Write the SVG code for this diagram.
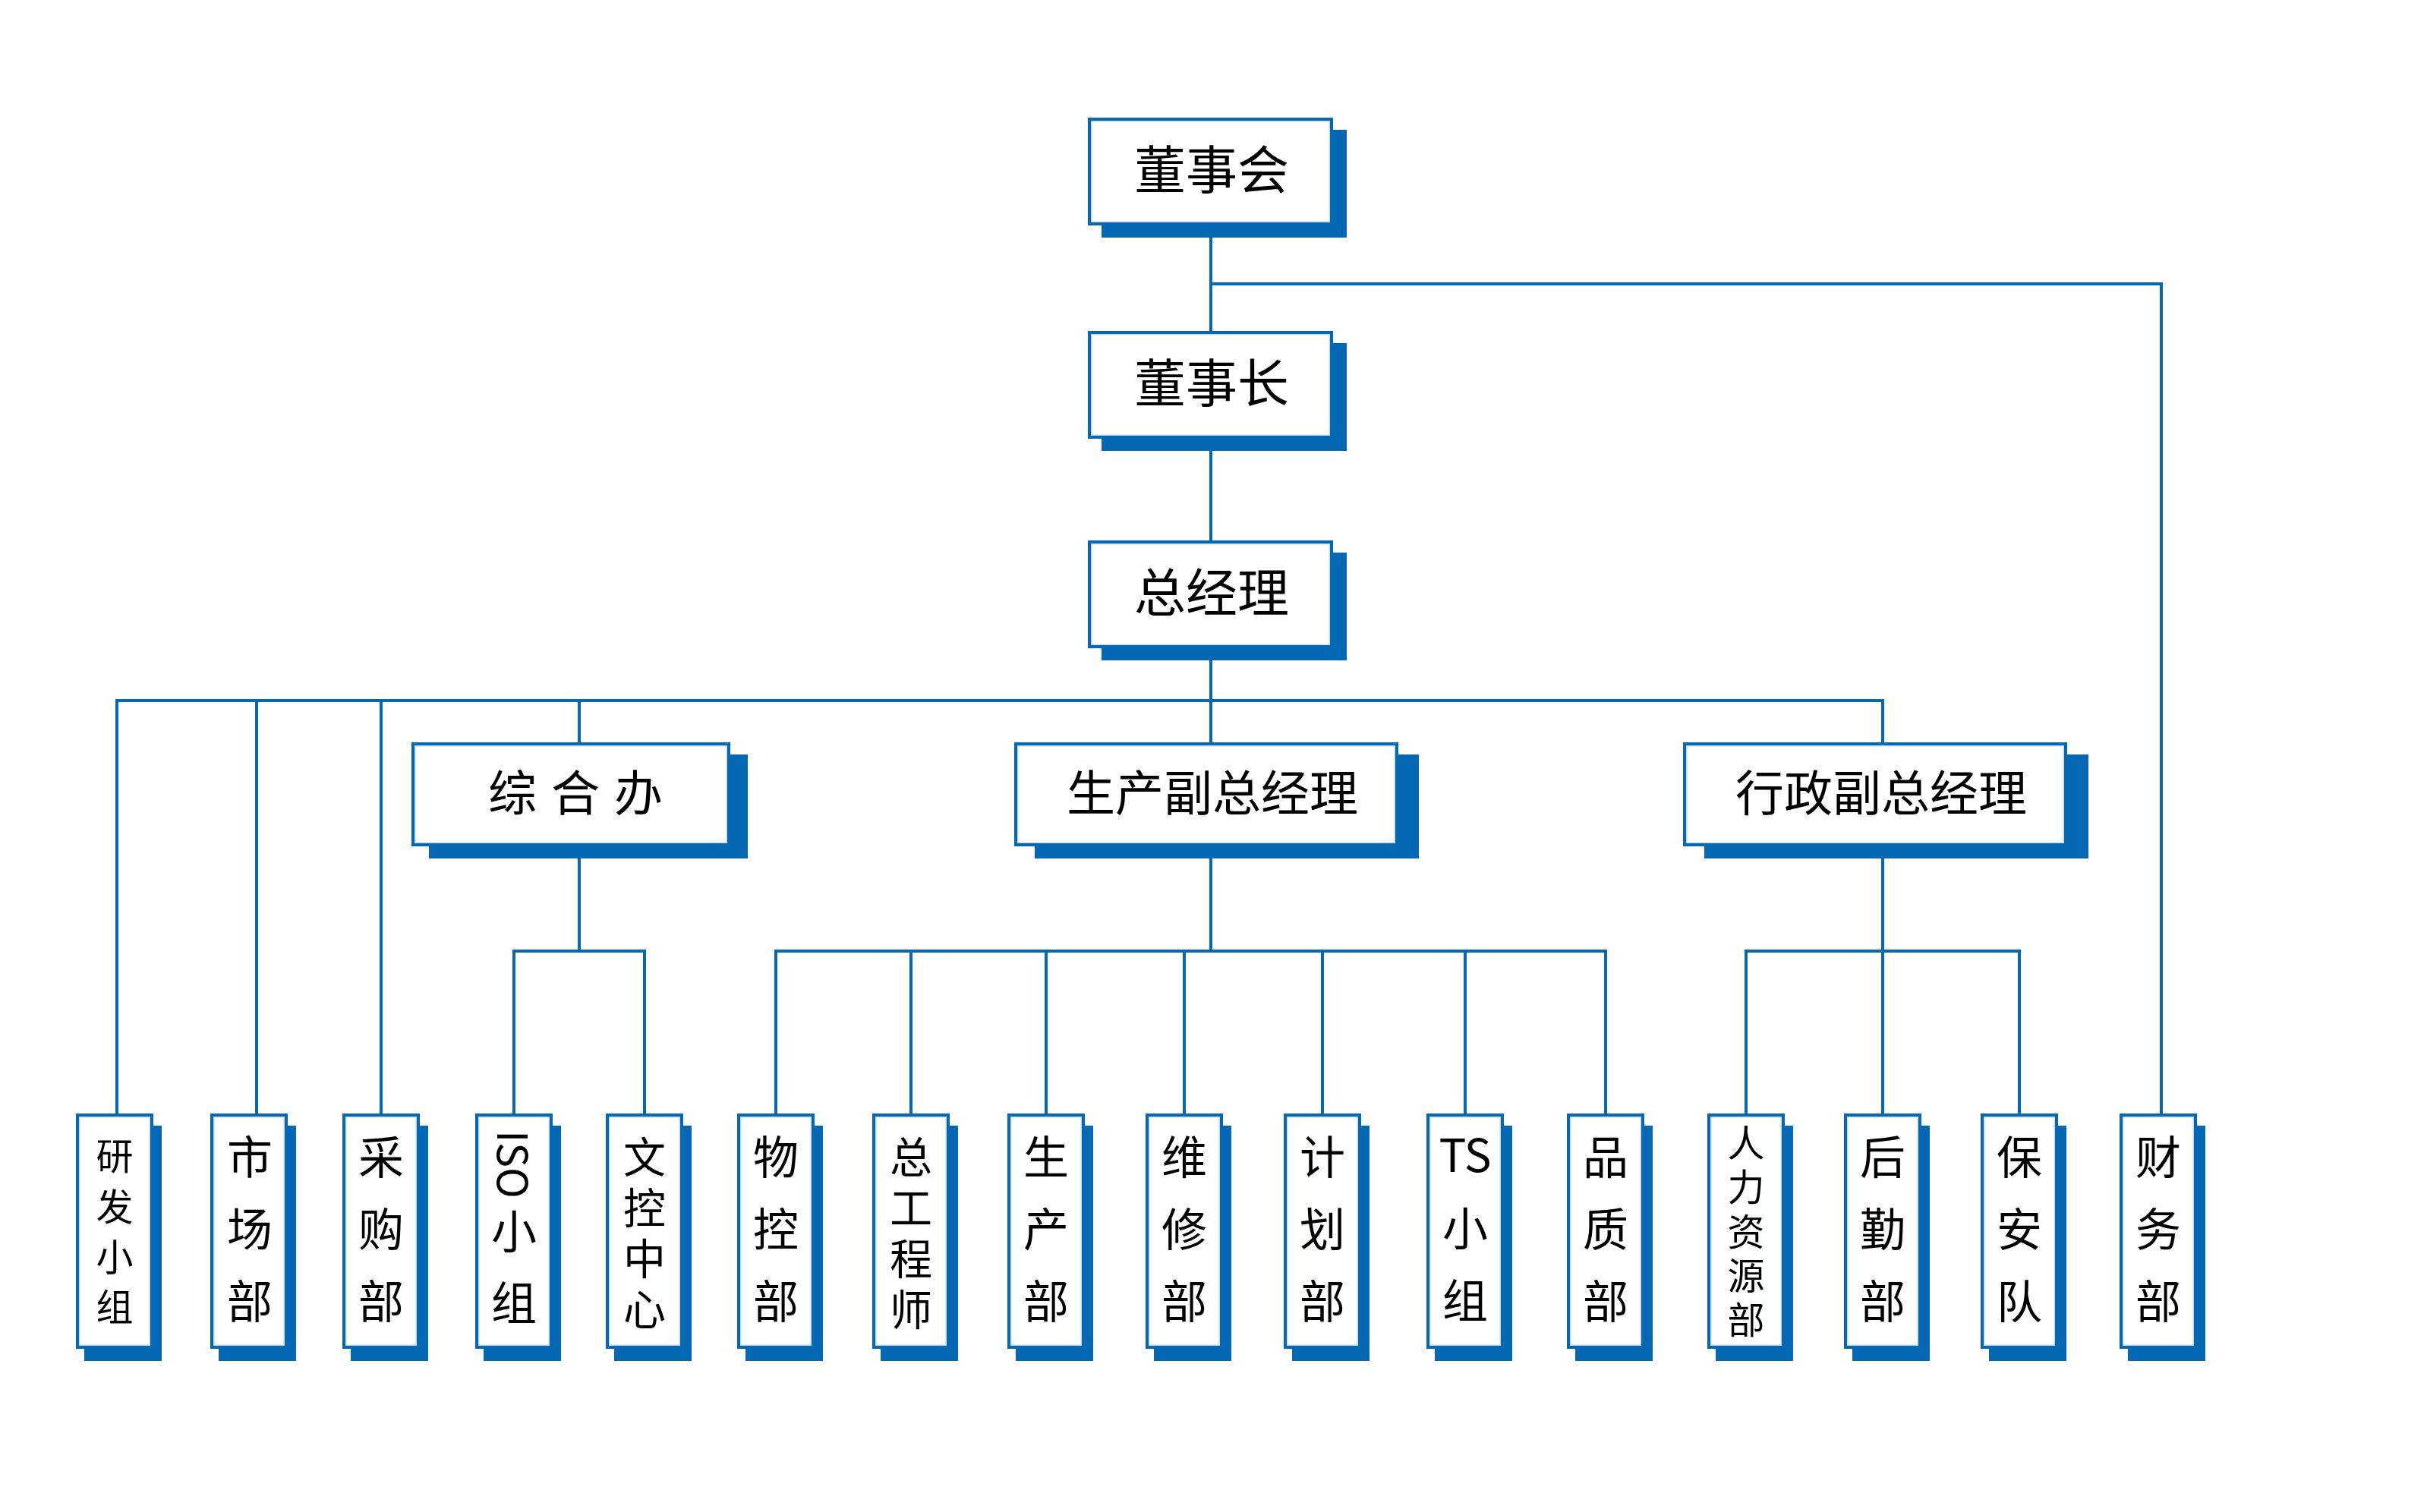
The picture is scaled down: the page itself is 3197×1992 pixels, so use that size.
<svg xmlns="http://www.w3.org/2000/svg" width="3197" height="1992" viewBox="0 0 3197 1992">
<style>
.ln{fill:none;stroke:#0568b5;stroke-width:4}
.sh{fill:#0568b5}
.bx{fill:#fff;stroke:#0568b5;stroke-width:4}
.in{fill:none;stroke:#c6daee;stroke-width:1.5}
.t{font-family:"Noto Sans CJK SC","Noto Sans",sans-serif;fill:#000;text-anchor:middle;dominant-baseline:central}
.f68{font-size:68px}
.f64{font-size:64px}
.f60{font-size:60px}
.f56{font-size:56px}
.f49{font-size:49px}
</style>
<rect width="3197" height="1992" fill="#fff"/>
<g id="connectors">
<path class="ln" d="M1595,297 V1253"/>
<path class="ln" d="M1595,374 H2847 V1469"/>
<path class="ln" d="M154,1469 V923 H2480 V1469"/>
<path class="ln" d="M338,923 V1469"/>
<path class="ln" d="M502,923 V1469"/>
<path class="ln" d="M763,923 V1253"/>
<path class="ln" d="M677,1469 V1253 H849 V1469"/>
<path class="ln" d="M1022,1469 V1253 H2115 V1469"/>
<path class="ln" d="M1200,1253 V1469"/>
<path class="ln" d="M1378,1253 V1469"/>
<path class="ln" d="M1560,1253 V1469"/>
<path class="ln" d="M1742,1253 V1469"/>
<path class="ln" d="M1930,1253 V1469"/>
<path class="ln" d="M2300,1469 V1253 H2660 V1469"/>
</g>
<g id="n-dongshihui">
<rect class="sh" x="1451" y="171" width="323" height="142"/>
<rect class="bx" x="1435" y="157" width="319" height="138"/>
<rect class="in" x="1437.75" y="159.75" width="313.5" height="132.5"/>
<text class="t f68" x="1596" y="219">董事会</text>
</g>
<g id="n-dongshizhang">
<rect class="sh" x="1451" y="452" width="323" height="142"/>
<rect class="bx" x="1435" y="438" width="319" height="138"/>
<rect class="in" x="1437.75" y="440.75" width="313.5" height="132.5"/>
<text class="t f68" x="1596" y="500">董事长</text>
</g>
<g id="n-zongjingli">
<rect class="sh" x="1451" y="728" width="323" height="142"/>
<rect class="bx" x="1435" y="714" width="319" height="138"/>
<rect class="in" x="1437.75" y="716.75" width="313.5" height="132.5"/>
<text class="t f68" x="1596" y="776">总经理</text>
</g>
<g id="n-zonghe">
<rect class="sh" x="565" y="994" width="420" height="137"/>
<rect class="bx" x="544" y="980" width="416" height="133"/>
<rect class="in" x="546.75" y="982.75" width="410.5" height="127.5"/>
<text class="t f64" y="1040"><tspan x="675">综</tspan><tspan x="758">合</tspan><tspan x="841">办</tspan></text>
</g>
<g id="n-shengchanfu">
<rect class="sh" x="1363" y="994" width="506" height="137"/>
<rect class="bx" x="1338" y="980" width="502" height="133"/>
<rect class="in" x="1340.75" y="982.75" width="496.5" height="127.5"/>
<text class="t f64" x="1597" y="1040">生产副总经理</text>
</g>
<g id="n-xingzhengfu">
<rect class="sh" x="2245" y="994" width="506" height="137"/>
<rect class="bx" x="2219" y="980" width="502" height="133"/>
<rect class="in" x="2221.75" y="982.75" width="496.5" height="127.5"/>
<text class="t f64" x="2478" y="1040">行政副总经理</text>
</g>
<g id="n-yanfa">
<rect class="sh" x="111" y="1483" width="102" height="310"/>
<rect class="bx" x="102" y="1469" width="98" height="306"/>
<rect class="in" x="104.75" y="1471.75" width="92.5" height="300.5"/>
<text class="t f49" x="151" y="1519">研</text>
<text class="t f49" x="151" y="1586">发</text>
<text class="t f49" x="151" y="1652">小</text>
<text class="t f49" x="151" y="1718">组</text>
</g>
<g id="n-shichang">
<rect class="sh" x="288" y="1483" width="102" height="310"/>
<rect class="bx" x="279" y="1469" width="98" height="306"/>
<rect class="in" x="281.75" y="1471.75" width="92.5" height="300.5"/>
<text class="t f60" x="329" y="1520">市</text>
<text class="t f60" x="329" y="1615">场</text>
<text class="t f60" x="329" y="1710">部</text>
</g>
<g id="n-caigou">
<rect class="sh" x="462" y="1483" width="102" height="310"/>
<rect class="bx" x="453" y="1469" width="98" height="306"/>
<rect class="in" x="455.75" y="1471.75" width="92.5" height="300.5"/>
<text class="t f60" x="502" y="1520">采</text>
<text class="t f60" x="502" y="1615">购</text>
<text class="t f60" x="502" y="1710">部</text>
</g>
<g id="n-iso">
<rect class="sh" x="637" y="1483" width="102" height="310"/>
<rect class="bx" x="628" y="1469" width="98" height="306"/>
<rect class="in" x="630.75" y="1471.75" width="92.5" height="300.5"/>
<text class="t" style="font-size:55px" transform="translate(679,1534) rotate(90)" x="0" y="0">ISO</text>
<text class="t f60" x="677" y="1618">小</text>
<text class="t f60" x="677" y="1712">组</text>
</g>
<g id="n-wenkong">
<rect class="sh" x="809" y="1483" width="102" height="310"/>
<rect class="bx" x="800" y="1469" width="98" height="306"/>
<rect class="in" x="802.75" y="1471.75" width="92.5" height="300.5"/>
<text class="t f56" x="849" y="1520">文</text>
<text class="t f56" x="849" y="1587">控</text>
<text class="t f56" x="849" y="1654">中</text>
<text class="t f56" x="849" y="1721">心</text>
</g>
<g id="n-wukong">
<rect class="sh" x="982" y="1483" width="102" height="310"/>
<rect class="bx" x="973" y="1469" width="98" height="306"/>
<rect class="in" x="975.75" y="1471.75" width="92.5" height="300.5"/>
<text class="t f60" x="1022" y="1520">物</text>
<text class="t f60" x="1022" y="1615">控</text>
<text class="t f60" x="1022" y="1710">部</text>
</g>
<g id="n-zonggong">
<rect class="sh" x="1160" y="1483" width="102" height="310"/>
<rect class="bx" x="1151" y="1469" width="98" height="306"/>
<rect class="in" x="1153.75" y="1471.75" width="92.5" height="300.5"/>
<text class="t f56" x="1200" y="1520">总</text>
<text class="t f56" x="1200" y="1587">工</text>
<text class="t f56" x="1200" y="1654">程</text>
<text class="t f56" x="1200" y="1721">师</text>
</g>
<g id="n-shengchan">
<rect class="sh" x="1338" y="1483" width="102" height="310"/>
<rect class="bx" x="1329" y="1469" width="98" height="306"/>
<rect class="in" x="1331.75" y="1471.75" width="92.5" height="300.5"/>
<text class="t f60" x="1378" y="1520">生</text>
<text class="t f60" x="1378" y="1615">产</text>
<text class="t f60" x="1378" y="1710">部</text>
</g>
<g id="n-weixiu">
<rect class="sh" x="1520" y="1483" width="102" height="310"/>
<rect class="bx" x="1511" y="1469" width="98" height="306"/>
<rect class="in" x="1513.75" y="1471.75" width="92.5" height="300.5"/>
<text class="t f60" x="1560" y="1520">维</text>
<text class="t f60" x="1560" y="1615">修</text>
<text class="t f60" x="1560" y="1710">部</text>
</g>
<g id="n-jihua">
<rect class="sh" x="1702" y="1483" width="102" height="310"/>
<rect class="bx" x="1693" y="1469" width="98" height="306"/>
<rect class="in" x="1695.75" y="1471.75" width="92.5" height="300.5"/>
<text class="t f60" x="1742" y="1520">计</text>
<text class="t f60" x="1742" y="1615">划</text>
<text class="t f60" x="1742" y="1710">部</text>
</g>
<g id="n-ts">
<rect class="sh" x="1890" y="1483" width="102" height="310"/>
<rect class="bx" x="1881" y="1469" width="98" height="306"/>
<rect class="in" x="1883.75" y="1471.75" width="92.5" height="300.5"/>
<text class="t f60" x="1930" y="1517">TS</text>
<text class="t f60" x="1930" y="1614">小</text>
<text class="t f60" x="1930" y="1709">组</text>
</g>
<g id="n-pinzhi">
<rect class="sh" x="2075" y="1483" width="102" height="310"/>
<rect class="bx" x="2066" y="1469" width="98" height="306"/>
<rect class="in" x="2068.75" y="1471.75" width="92.5" height="300.5"/>
<text class="t f60" x="2115" y="1520">品</text>
<text class="t f60" x="2115" y="1615">质</text>
<text class="t f60" x="2115" y="1710">部</text>
</g>
<g id="n-renli">
<rect class="sh" x="2260" y="1483" width="102" height="310"/>
<rect class="bx" x="2251" y="1469" width="98" height="306"/>
<rect class="in" x="2253.75" y="1471.75" width="92.5" height="300.5"/>
<text class="t f49" x="2300" y="1502">人</text>
<text class="t f49" x="2300" y="1560">力</text>
<text class="t f49" x="2300" y="1619">资</text>
<text class="t f49" x="2300" y="1677">源</text>
<text class="t f49" x="2300" y="1735">部</text>
</g>
<g id="n-houqin">
<rect class="sh" x="2440" y="1483" width="102" height="310"/>
<rect class="bx" x="2431" y="1469" width="98" height="306"/>
<rect class="in" x="2433.75" y="1471.75" width="92.5" height="300.5"/>
<text class="t f60" x="2480" y="1520">后</text>
<text class="t f60" x="2480" y="1615">勤</text>
<text class="t f60" x="2480" y="1710">部</text>
</g>
<g id="n-baoan">
<rect class="sh" x="2620" y="1483" width="102" height="310"/>
<rect class="bx" x="2611" y="1469" width="98" height="306"/>
<rect class="in" x="2613.75" y="1471.75" width="92.5" height="300.5"/>
<text class="t f60" x="2660" y="1520">保</text>
<text class="t f60" x="2660" y="1615">安</text>
<text class="t f60" x="2660" y="1710">队</text>
</g>
<g id="n-caiwu">
<rect class="sh" x="2803" y="1483" width="102" height="310"/>
<rect class="bx" x="2794" y="1469" width="98" height="306"/>
<rect class="in" x="2796.75" y="1471.75" width="92.5" height="300.5"/>
<text class="t f60" x="2843" y="1520">财</text>
<text class="t f60" x="2843" y="1615">务</text>
<text class="t f60" x="2843" y="1710">部</text>
</g>
</svg>
